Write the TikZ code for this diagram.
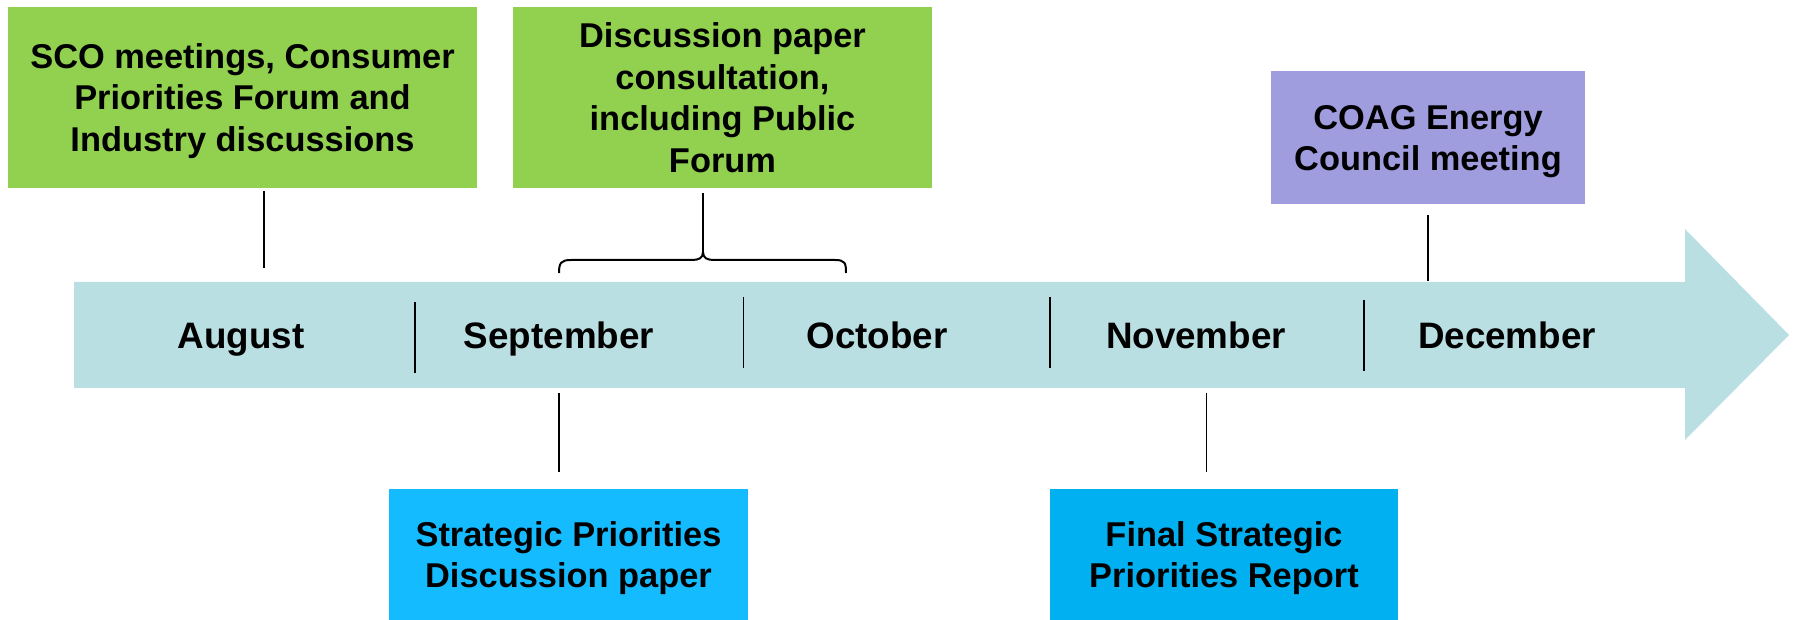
\documentclass[tikz,border=0pt]{standalone}
\usepackage{fontspec}
\setmainfont{Liberation Sans}
\newcommand\bxs{\rule[-4.15pt]{0pt}{20.75pt}}
\definecolor{gbx}{HTML}{92D050}
\definecolor{pbx}{HTML}{9F9DDE}
\definecolor{lbx}{HTML}{15BBFF}
\definecolor{dbx}{HTML}{00B0F0}
\definecolor{band}{HTML}{BADFE3}
\tikzset{
  box/.style={inner sep=0pt, align=center, font=\fontsize{17.2pt}{20.75pt}\selectfont\bfseries},
  month/.style={inner sep=0pt, anchor=base, font=\fontsize{18.4pt}{22pt}\selectfont\bfseries},
  stem/.style={draw=black, line width=0.8pt},
  sep/.style={draw=black, line width=0.9pt},
  bracepath/.style={draw=black, line width=1pt},
}
\begin{document}
\begin{tikzpicture}[x=0.5pt,y=-0.5pt]
\useasboundingbox (0,0) rectangle (1796,620);
% timeline band arrow
\fill[band] (74,282) -- (1685,282) -- (1685,229) -- (1789,335) -- (1685,440) -- (1685,388) -- (74,388) -- cycle;
% boxes
\node[box, fill=gbx, minimum width=234.5pt, minimum height=90.5pt] (g1) at (242.5,97.5)
  {\bxs SCO meetings, Consumer\bxs\\\bxs Priorities Forum and\bxs\\\bxs Industry discussions\bxs};
\node[box, fill=gbx, minimum width=209.5pt, minimum height=90.5pt] (g2) at (722.5,97.5)
  {\bxs Discussion paper\bxs\\\bxs consultation,\bxs\\\bxs including Public\bxs\\\bxs Forum\bxs};
\node[box, fill=pbx, minimum width=157pt, minimum height=66.5pt] (p1) at (1428,137.5)
  {\bxs COAG Energy\bxs\\\bxs Council meeting\bxs};
\node[box, fill=lbx, minimum width=179.5pt, minimum height=65.5pt] (b1) at (568.5,554.5)
  {\bxs Strategic Priorities\bxs\\\bxs Discussion paper\bxs};
\node[box, fill=dbx, minimum width=174pt, minimum height=65.5pt] (b2) at (1224,554.5)
  {\bxs Final Strategic\bxs\\\bxs Priorities Report\bxs};
% months
\node[month] (aug) at (241,349) {August};
\node[month] (sep) at (559,349) {September};
\node[month] (oct) at (877,349) {October};
\node[month] (nov) at (1196,349) {November};
\node[month] (dec) at (1507,349) {December};
% separators
\coordinate (s1a) at (415,302);    \coordinate (s1b) at (415,373);
\coordinate (s2a) at (743.5,297);  \coordinate (s2b) at (743.5,368);
\coordinate (s3a) at (1050,297);   \coordinate (s3b) at (1050,368);
\coordinate (s4a) at (1364,300);   \coordinate (s4b) at (1364,371);
\draw[sep] (s1a) -- (s1b);
\draw[sep] (s2a) -- (s2b);
\draw[sep] (s3a) -- (s3b);
\draw[sep] (s4a) -- (s4b);
% stems
\coordinate (ga) at (264,191);    \coordinate (gb) at (264,268);
\coordinate (ba) at (703,193);    \coordinate (bb) at (703,252);
\coordinate (pa) at (1428,215);   \coordinate (pb) at (1428,281);
\coordinate (la) at (559,393);    \coordinate (lb) at (559,472);
\coordinate (da) at (1206.5,393); \coordinate (db) at (1206.5,472);
\draw[stem] (ga) -- (gb);
\draw[stem] (ba) -- (bb);
\draw[stem] (pa) -- (pb);
\draw[stem] (la) -- (lb);
\draw[stem] (da) -- (db);
% brace
\draw[bracepath] (559,273) .. controls (559,263) and (561,260) .. (571,260) -- (692,260)
  .. controls (699,260) and (703,258) .. (bb)
  .. controls (703,258) and (707,260) .. (714,260) -- (835,260)
  .. controls (845,260) and (846,263) .. (846,273);
\end{tikzpicture}
\end{document}
